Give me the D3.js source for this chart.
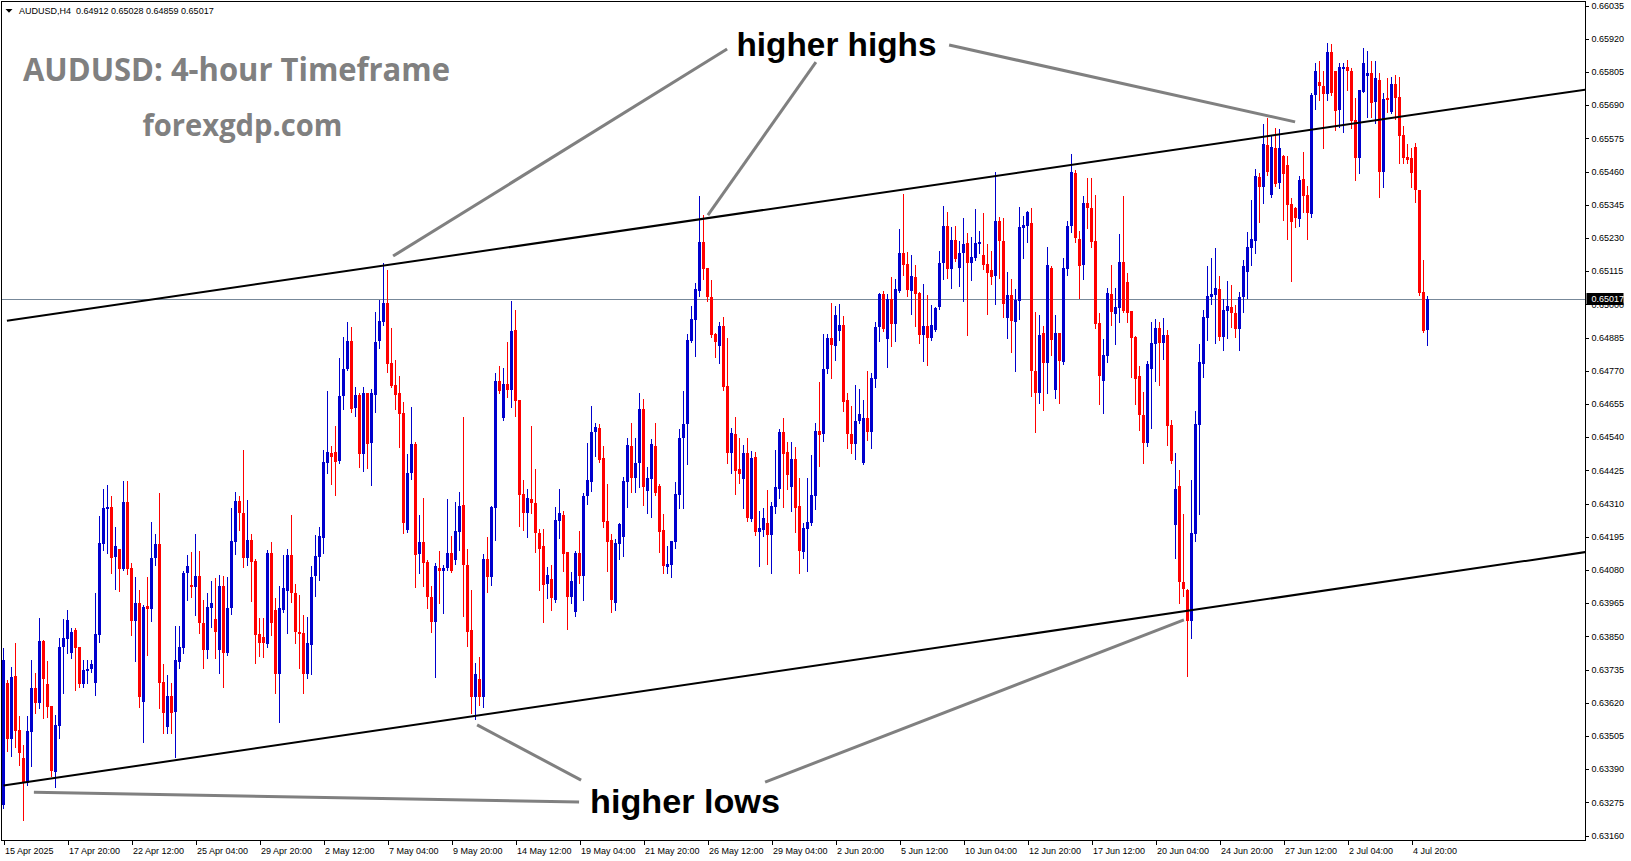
<!DOCTYPE html>
<html><head><meta charset="utf-8">
<script src="https://cdn.jsdelivr.net/npm/d3@7"></script>
<style>html,body{margin:0;padding:0;background:#fff;overflow:hidden}</style>
</head><body><svg id="c" width="1631" height="861"></svg>
<script>
// ---------- DATA (prices in points, 1 point = 0.00001) ----------
const symbol = "AUDUSD", timeframe = "H4";
const POINT = 0.00001;
const open = [63266,63689,63494,63713,63525,63428,63342,63518,63671,63619,63834,63685,63608,63380,63539,63813,63841,63793,63872,63813,63685,63731,63737,63689,63855,64169,64291,64298,64125,64152,64083,64315,64086,63904,63966,63622,63955,63945,64121,64169,63692,63536,63643,63587,63761,63809,64070,64028,64021,64059,63897,63803,63948,63910,63803,64024,63793,63948,64176,64318,64277,64121,64183,64111,63858,63848,63823,64139,63941,63720,63941,64007,64132,64000,63865,63862,63720,63820,64059,64125,64190,64450,64484,64488,64457,64682,64776,64873,64640,64686,64481,64693,64519,64686,64873,64939,65005,64797,64721,64693,64623,64218,64416,64515,64135,64176,64107,63986,63900,64086,64077,64086,64139,64114,64211,64305,64097,63872,63640,63703,63640,64118,64056,64294,64735,64605,64724,64703,64911,64668,64342,64277,64325,64312,64208,64162,64031,64049,63976,64249,64270,64142,63986,63934,64139,64059,64335,64384,64557,64571,64467,64249,64183,63966,64169,64194,64384,64508,64398,64450,64637,64353,64395,64508,64370,64218,64090,64097,64176,64339,64536,64585,64873,64946,65046,65215,65126,65025,64897,64855,64925,64717,64484,64550,64429,64395,64484,64256,64471,64211,64218,64243,64201,64298,64360,64557,64488,64367,64464,64301,64142,64222,64243,64335,64561,64550,64776,64883,64855,64908,64929,64668,64550,64515,64596,64450,64605,64557,64742,64922,65035,64880,65018,64932,65046,65178,65139,65046,65095,65039,64894,64925,64883,64911,64991,65143,65271,65122,65222,65126,65178,65211,65143,65160,65208,65171,65139,65119,65098,65289,65218,64952,65032,64939,65012,65264,65271,65282,64770,64693,64901,64797,65126,64703,64901,64800,65122,65271,65456,65226,65136,65351,65333,65218,64936,64735,64821,65035,64966,64987,65146,65077,64977,64887,64752,64616,64519,64776,64862,64918,64866,64894,64582,64236,64370,64038,64010,63904,64204,64582,64793,64952,65025,65032,65053,64887,64977,64991,64970,64915,65025,65112,65195,65218,65442,65407,65552,65379,65541,65421,65514,65483,65347,65333,65295,65435,65379,65312,65725,65770,65756,65728,65874,65809,65673,65815,65822,65809,65639,65507,65735,65791,65802,65701,65777,65459,65714,65666,65763,65718,65587,65511,65507,65545,65396,65042,64912];
const high = [63809,63699,63744,63827,63573,63473,63573,63768,63724,63913,63837,63765,63608,63577,63844,63910,63941,63879,63879,63813,63768,63768,63768,64000,64266,64360,64374,64335,64229,64152,64388,64388,64104,64056,64010,63959,64056,64246,64204,64346,63754,63717,63689,63886,63886,64077,64132,64142,64204,64146,63976,64000,64042,64052,64063,64059,64056,64294,64349,64335,64495,64322,64204,64118,63913,63913,64149,64176,63983,64024,64132,64152,64270,64031,63993,63924,63917,64093,64201,64229,64495,64700,64508,64578,64814,64887,64939,64922,64714,64693,64714,64693,64707,64973,65015,65143,65119,64918,64807,64752,64661,64481,64644,64522,64270,64328,64114,64024,64104,64146,64097,64325,64197,64315,64349,64609,64152,64010,63758,63779,64135,64194,64301,64763,64786,64779,64869,65012,64980,64668,64391,64360,64578,64429,64222,64222,64090,64097,64298,64360,64284,64142,64073,64146,64215,64346,64519,64647,64589,64585,64508,64377,64204,64187,64243,64402,64536,64589,64536,64693,64672,64436,64533,64589,64377,64273,64162,64180,64384,64568,64700,64897,64994,65074,65375,65309,65126,65084,64901,64939,64956,64883,64571,64609,64536,64512,64536,64492,64488,64284,64294,64356,64315,64495,64568,64605,64522,64522,64505,64398,64243,64398,64478,64589,64731,64897,64897,65005,64994,65001,64959,64693,64647,64721,64707,64668,64770,64763,64939,65039,65046,65035,65095,65088,65261,65382,65181,65171,65136,65042,65070,65032,64998,64991,65185,65340,65319,65268,65271,65218,65298,65247,65233,65330,65254,65316,65208,65185,65459,65302,65298,65112,65088,65053,65337,65305,65323,65333,64973,64963,64925,65198,65132,64963,64901,65160,65289,65521,65466,65254,65375,65438,65438,65379,64970,64880,65056,65136,65056,65243,65375,65109,64977,64890,64786,64696,64804,64939,64949,64939,64952,64911,64599,64484,64426,64273,64014,64391,64630,64862,64980,65132,65160,65195,65098,65018,65081,65067,64998,65042,65153,65250,65361,65469,65456,65625,65645,65583,65611,65607,65517,65514,65368,65337,65445,65528,65410,65732,65836,65843,65809,65905,65902,65809,65836,65836,65846,65818,65714,65742,65887,65878,65843,65843,65802,65732,65784,65787,65795,65787,65618,65555,65541,65559,65396,65153,65028];
const low = [63255,63453,63435,63466,63404,63214,63335,63400,63584,63601,63566,63570,63366,63328,63497,63654,63793,63775,63664,63675,63675,63689,63727,63647,63830,64149,64139,64070,64014,64007,64080,64066,63855,63765,63605,63483,63786,63904,64097,63601,63515,63515,63515,63432,63740,63793,63976,63986,63924,63862,63740,63775,63883,63775,63724,63675,63786,63927,64135,64218,64090,64097,63973,63758,63782,63779,63813,63855,63654,63553,63934,63862,63969,63827,63740,63654,63706,63720,63989,64045,64139,64416,64377,64339,64450,64637,64773,64626,64612,64436,64423,64432,64374,64626,64848,64929,64766,64714,64637,64505,64208,64211,64395,64021,64070,64024,63948,63865,63710,63966,63931,64080,64073,64100,64149,63920,63816,63584,63563,63612,63605,64003,64028,64183,64693,64599,64679,64644,64612,64232,64218,64194,64277,64142,64010,63900,63983,63941,63969,64190,64077,63876,63966,63920,64035,63976,64308,64353,64474,64453,64229,64077,63934,63941,64118,64128,64298,64349,64349,64367,64305,64277,64263,64339,64142,64070,64070,64056,64155,64294,64294,64446,64869,64821,65028,65088,65012,64887,64818,64797,64703,64450,64416,64342,64381,64294,64249,64249,64201,64093,64197,64100,64070,64277,64328,64298,64360,64284,64211,64070,64121,64077,64236,64291,64439,64526,64763,64745,64807,64876,64630,64501,64484,64464,64589,64446,64529,64501,64714,64873,64908,64783,64855,64873,65042,65102,65028,64966,64925,64866,64804,64790,64876,64908,64984,65088,65091,65056,65150,65063,65012,64894,65084,65153,65178,65122,64966,65070,65001,65091,64956,64883,64835,64770,64949,65160,65215,64682,64557,64658,64633,64693,64825,64675,64658,64793,65102,65250,65215,65021,65088,65264,65198,64918,64654,64623,64800,64929,64862,64939,64973,64939,64749,64654,64564,64450,64508,64571,64735,64721,64811,64512,64450,64121,63966,63989,63713,63844,64180,64273,64749,64876,65001,64866,64876,64842,64883,64922,64887,64842,64973,65021,65136,65178,65285,65351,65449,65372,65410,65403,65292,65226,65081,65268,65271,65319,65226,65302,65677,65708,65541,65708,65725,65604,65614,65597,65742,65611,65431,65456,65735,65649,65649,65629,65372,65407,65666,65663,65642,65490,65490,65490,65407,65354,65032,64904,64859];
const close = [63768,63494,63710,63522,63446,63342,63522,63671,63619,63834,63703,63605,63384,63543,63813,63844,63907,63865,63809,63685,63734,63737,63754,63858,64173,64294,64298,64121,64162,64083,64315,64083,63904,63966,63640,63952,63945,64121,64169,63689,63584,63643,63584,63768,63813,64070,64093,64021,64059,63897,63803,63952,63966,63865,64024,63793,63948,64180,64318,64277,64121,64183,64107,63855,63827,63827,64139,63897,63720,63948,64017,64132,64000,63865,63858,63720,63827,64056,64128,64197,64453,64488,64471,64453,64682,64776,64873,64637,64686,64481,64693,64515,64693,64869,64943,65005,64793,64717,64686,64619,64243,64416,64515,64132,64176,64104,63986,63900,64093,64077,64086,64139,64077,64215,64301,64097,63865,63640,63720,63640,64118,64056,64298,64735,64700,64724,64703,64908,64665,64339,64277,64328,64312,64208,64152,64028,64063,63983,64253,64277,64135,63986,64042,64139,64059,64335,64391,64557,64575,64460,64246,64176,63976,64173,64239,64388,64512,64398,64450,64637,64367,64398,64515,64346,64211,64093,64100,64180,64342,64536,64585,64876,64949,65053,65215,65122,65025,64894,64869,64925,64714,64484,64554,64423,64412,64484,64259,64467,64211,64225,64259,64201,64301,64367,64557,64481,64409,64464,64294,64146,64225,64246,64339,64561,64547,64776,64883,64859,64963,64929,64661,64550,64515,64596,64619,64605,64557,64745,64922,65035,64915,65018,64932,65053,65178,65136,65049,65098,65035,64894,64925,64883,64929,64987,65143,65271,65122,65222,65157,65178,65208,65143,65164,65211,65215,65136,65109,65095,65289,65218,65001,65032,64943,65015,65268,65275,65319,64770,64693,64894,64797,65136,64876,64901,64804,65126,65271,65459,65229,65132,65351,65333,65215,64932,64752,64825,65039,64973,64991,65146,64977,64970,64883,64742,64616,64519,64793,64866,64918,64866,64894,64578,64457,64360,64038,64014,63904,64208,64585,64800,64956,65028,65035,65056,64887,64980,64994,64970,64915,65025,65132,65198,65226,65445,65407,65555,65459,65545,65417,65541,65452,65344,65285,65298,65431,65375,65316,65725,65809,65756,65728,65874,65732,65670,65822,65822,65809,65636,65507,65742,65836,65802,65698,65784,65459,65711,65708,65763,65714,65583,65507,65500,65456,65396,65039,64908,65017];

const yTicks = [0.66035,0.65920,0.65805,0.65690,0.65575,0.65460,0.65345,0.65230,0.65115,0.65000,0.64885,0.64770,0.64655,0.64540,0.64425,0.64310,0.64195,0.64080,0.63965,0.63850,0.63735,0.63620,0.63505,0.63390,0.63275,0.63160];
const xTickIdx = [0,16,32,48,64,80,96,112,128,144,160,176,192,208,224,240,256,272,288,304,320,336,352];
const xTickLabels = ["15 Apr 2025","17 Apr 20:00","22 Apr 12:00","25 Apr 04:00","29 Apr 20:00","2 May 12:00","7 May 04:00","9 May 20:00","14 May 12:00","19 May 04:00","21 May 20:00","26 May 12:00","29 May 04:00","2 Jun 20:00","5 Jun 12:00","10 Jun 04:00","12 Jun 20:00","17 Jun 12:00","20 Jun 04:00","24 Jun 20:00","27 Jun 12:00","2 Jul 04:00","4 Jul 20:00"];

// channel lines: [bar index, price] anchors
const upperChannel = [[0.85,0.64943],[395.6,0.65744]];
const lowerChannel = [[0,0.63333],[395.6,0.64142]];
// annotation pointers: [bar index, price] endpoints
const highsPointers = [[[180.9,0.65884],[97.4,0.65167]],[[203.1,0.65839],[176.1,0.65309]],[[236.4,0.65898],[322.9,0.65632]]];
const lowsPointers = [[[144.4,0.63352],[118.4,0.63543]],[[190.4,0.63345],[295.1,0.63907]],[[7.6,0.63310],[143.9,0.63276]]];

// ---------- DRAW ----------
const svg = d3.select('#c');
const L = 1.5, T = 1.5, R = 1585.5, B = 840.5;
const x = d3.scaleLinear().domain([0, 356]).range([3.5, 1427.5]);
const y = d3.scaleLinear().domain([0.63160, 0.66035]).range([835.5, 5.5]);
const fmt = d3.format('.5f');

const bars = open.map((o, i) => ({i, o: o*POINT, h: high[i]*POINT, l: low[i]*POINT, c: close[i]*POINT}));
const lastBar = bars[bars.length - 1];

svg.append('rect').attr('width', 1631).attr('height', 861).attr('fill', '#fff');

svg.append('defs').append('clipPath').attr('id', 'plot')
  .append('rect').attr('x', L + 0.5).attr('y', T + 0.5).attr('width', R - L - 1).attr('height', B - T - 1);

const plot = svg.append('g').attr('clip-path', 'url(#plot)');

// bid line
plot.append('line').attr('x1', L).attr('x2', R)
  .attr('y1', Math.round(y(lastBar.c)) + 0.5).attr('y2', Math.round(y(lastBar.c)) + 0.5)
  .attr('stroke', '#778899').attr('stroke-width', 1);

// candles
const colBull = '#0000CD', colBear = '#FF0000';
const cg = plot.append('g').attr('shape-rendering', 'crispEdges');
cg.selectAll('line.w').data(bars).join('line').attr('class', 'w')
  .attr('x1', d => x(d.i)).attr('x2', d => x(d.i))
  .attr('y1', d => Math.round(y(d.h))).attr('y2', d => Math.round(y(d.l)) + 1)
  .attr('stroke', d => d.c >= d.o ? colBull : colBear).attr('stroke-width', 1);
cg.selectAll('rect.b').data(bars).join('rect').attr('class', 'b')
  .attr('x', d => x(d.i) - 1.5).attr('width', 3)
  .attr('y', d => Math.round(y(Math.max(d.o, d.c))))
  .attr('height', d => Math.max(1, Math.round(y(Math.min(d.o, d.c))) - Math.round(y(Math.max(d.o, d.c)))))
  .attr('fill', d => d.c >= d.o ? colBull : colBear);

// channel lines
function extend(a) {
  const [[i1, p1], [i2, p2]] = a;
  const iEnd = x.invert(R);
  const pEnd = p1 + (p2 - p1) * (iEnd - i1) / (i2 - i1);
  return [[x(i1), y(p1)], [x(iEnd), y(pEnd)]];
}
[upperChannel, lowerChannel].forEach(a => {
  plot.append('path').attr('d', d3.line()(extend(a)))
    .attr('stroke', '#000').attr('stroke-width', 2).attr('fill', 'none');
});

// pointer lines
[...highsPointers, ...lowsPointers].forEach(seg => {
  svg.append('path').attr('d', d3.line()(seg.map(([i, p]) => [x(i), y(p)])))
    .attr('stroke', '#808080').attr('stroke-width', 3).attr('fill', 'none');
});

// frame
svg.append('rect').attr('x', L).attr('y', T).attr('width', R - L).attr('height', B - T)
  .attr('fill', 'none').attr('stroke', '#000').attr('stroke-width', 1).attr('shape-rendering', 'crispEdges');

// axes
const axFont = '"Liberation Sans", Arial, sans-serif';
const ya = svg.append('g').attr('transform', `translate(${R},0)`)
  .call(d3.axisRight(y).tickValues(yTicks).tickSize(3).tickFormat(fmt));
ya.select('.domain').remove();
ya.selectAll('text').attr('font-family', axFont).attr('font-size', 9).attr('fill', '#000');
ya.selectAll('line').attr('stroke', '#000').attr('shape-rendering', 'crispEdges');

const xa = svg.append('g').attr('transform', `translate(0,${B})`)
  .call(d3.axisBottom(x).tickValues(xTickIdx).tickSize(4).tickFormat((d, k) => xTickLabels[k]));
xa.select('.domain').remove();
xa.selectAll('text').attr('font-family', axFont).attr('font-size', 9).attr('fill', '#000')
  .attr('text-anchor', 'start').attr('dx', 1);
xa.selectAll('line').attr('stroke', '#000').attr('shape-rendering', 'crispEdges');

// current price box
const py = y(lastBar.c);
svg.append('rect').attr('x', R + 1).attr('y', Math.round(py) - 6).attr('width', 37).attr('height', 12).attr('fill', '#000');
svg.append('text').attr('x', R + 6).attr('y', py).attr('dy', '0.34em')
  .attr('font-family', axFont).attr('font-size', 9).attr('fill', '#fff').text(fmt(lastBar.c));

// header
svg.append('path').attr('d', 'M5.5,9L12.5,9L9,12.8Z').attr('fill', '#000');
svg.append('text').attr('x', 19).attr('y', 14).attr('font-family', axFont).attr('font-size', 9)
  .attr('fill', '#000').style('white-space', 'pre')
  .text(`${symbol},${timeframe}  ${fmt(lastBar.o)} ${fmt(lastBar.h)} ${fmt(lastBar.l)} ${fmt(lastBar.c)}`);

// titles
svg.append('text').attr('x', 23).attr('y', 80.5)
  .attr('font-family', '"Open Sans", sans-serif').attr('font-weight', 700).attr('font-size', 32)
  .attr('fill', '#808080').attr('textLength', 427).attr('lengthAdjust', 'spacingAndGlyphs')
  .text(`${symbol}: 4-hour Timeframe`);
svg.append('text').attr('x', 142.5).attr('y', 136)
  .attr('font-family', '"Open Sans", sans-serif').attr('font-weight', 700).attr('font-size', 30)
  .attr('fill', '#808080').attr('textLength', 200).attr('lengthAdjust', 'spacingAndGlyphs')
  .text('forexgdp.com');

svg.append('text').attr('x', 736.5).attr('y', 55.5)
  .attr('font-family', '"Liberation Sans", Arial, sans-serif').attr('font-weight', 700).attr('font-size', 34)
  .attr('fill', '#000').attr('textLength', 200).attr('lengthAdjust', 'spacingAndGlyphs')
  .text('higher highs');
svg.append('text').attr('x', 590).attr('y', 813)
  .attr('font-family', '"Liberation Sans", Arial, sans-serif').attr('font-weight', 700).attr('font-size', 34)
  .attr('fill', '#000').attr('textLength', 190).attr('lengthAdjust', 'spacingAndGlyphs')
  .text('higher lows');
</script></body></html>
